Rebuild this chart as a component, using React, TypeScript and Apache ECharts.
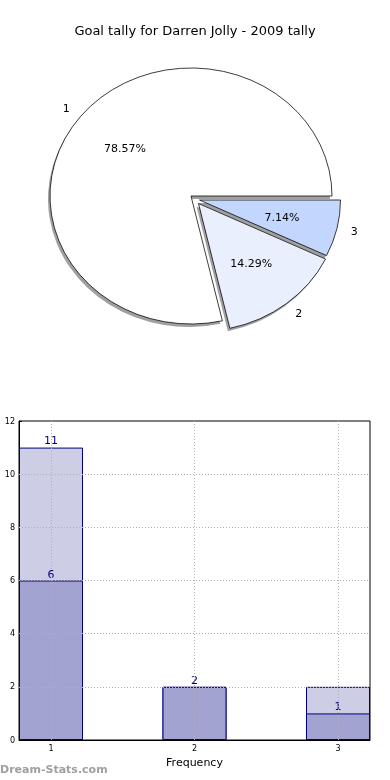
import React, { useEffect, useRef } from "react";
import * as echarts from "echarts";

const TITLE = "Goal tally for Darren Jolly - 2009 tally";
const PIE_LABELS = ["1", "2", "3"];
const PIE_VALUES = [11, 2, 1];
const PIE_COLORS = ["#ffffff", "#e9effd", "#c3d6fe"];

const CATEGORIES = [1, 2, 3];
const TOTAL_GAMES = [11, 2, 2];
const GOAL_GAMES = [6, 2, 1];
const Y_GRID = [2, 4, 6, 8, 10];

const FONT = "DejaVu Sans";
// layout constants
const CX = 191;
const CY = 196;
const RX = 141;
const RY = 128;
const EXPLODE = [
  [0, 0],
  [7.5, 7.5],
  [8.5, 4],
];

export default function App() {
  const ref = useRef<HTMLDivElement>(null);
  useEffect(() => {
    const chart = echarts.init(ref.current!, null, { renderer: "svg" });
    const total = PIE_VALUES.reduce((a, b) => a + b, 0);

    const renderPie = (params: any, api: any) => {
      const i = params.dataIndex;
      let before = 0;
      for (let k = 0; k < i; k++) before += PIE_VALUES[k];
      const v = api.value(0);
      const t0 = (before / total) * 360;
      const t1 = ((before + v) / total) * 360;
      const cx = CX + EXPLODE[i][0];
      const cy = CY + EXPLODE[i][1];
      const shape = {
        cx: 0,
        cy: 0,
        r0: 0,
        r: RX,
        startAngle: (-t1 * Math.PI) / 180,
        endAngle: (-t0 * Math.PI) / 180,
        clockwise: true,
      };
      const m = (((t0 + t1) / 2) * Math.PI) / 180;
      const c = Math.cos(m);
      const s = Math.sin(m);
      return {
        type: "group",
        children: [
          {
            type: "sector",
            x: cx - 2,
            y: cy + 3,
            scaleY: RY / RX,
            shape,
            style: { fill: "#a0a0a0" },
            z2: 0,
          },
          {
            type: "sector",
            x: cx,
            y: cy,
            scaleY: RY / RX,
            shape,
            style: {
              fill: PIE_COLORS[i],
              stroke: "#000",
              lineWidth: 0.8,
              strokeNoScale: true,
            },
            z2: 10,
          },
          {
            type: "text",
            x: cx + 0.6 * RX * c,
            y: cy - 0.6 * RY * s,
            style: {
              text: ((v / total) * 100).toFixed(2) + "%",
              align: "center",
              verticalAlign: "middle",
              fontSize: 11,
              fontFamily: FONT,
              fill: "#000",
            },
            z2: 20,
          },
          {
            type: "text",
            x: cx + 1.1 * RX * c,
            y: cy - 1.1 * RY * s,
            style: {
              text: PIE_LABELS[i],
              align: c >= 0 ? "left" : "right",
              verticalAlign: "middle",
              fontSize: 11,
              fontFamily: FONT,
              fill: "#000",
            },
            z2: 20,
          },
        ],
      };
    };

    const gridLineStyle = { color: "#b0b0b0", type: [1, 2] as any, width: 1 };

    chart.setOption({
      animation: false,
      textStyle: { fontFamily: FONT },
      title: {
        text: TITLE,
        left: "center",
        top: 19,
        textStyle: { fontSize: 13, fontWeight: "normal", color: "#000", fontFamily: FONT },
      },
      graphic: [
        {
          type: "text",
          left: 0,
          top: 764,
          style: {
            text: "Dream-Stats.com",
            fontSize: 11,
            fontWeight: "bold",
            fontFamily: FONT,
            fill: "#a0a0a0",
          },
        },
      ],
      grid: {
        left: 19,
        right: 20,
        top: 421,
        bottom: 40,
        containLabel: false,
        outerBoundsMode: "none",
        show: true,
        borderColor: "#000",
        borderWidth: 1,
        backgroundColor: "transparent",
      },
      xAxis: {
        type: "value",
        min: 0.777,
        max: 3.223,
        name: "Frequency",
        nameLocation: "middle",
        nameGap: 17,
        nameTextStyle: { fontSize: 11, color: "#000", fontFamily: FONT },
        axisLine: { show: true, lineStyle: { color: "#000" } },
        axisTick: { show: true, inside: true, length: 3, customValues: CATEGORIES, lineStyle: { color: "#000" } },
        axisLabel: { customValues: CATEGORIES, fontSize: 8, color: "#000", margin: 4, fontFamily: FONT },
        splitLine: { show: false },
      },
      yAxis: {
        type: "value",
        min: 0,
        max: 12,
        interval: 2,
        name: "Goal Tally",
        nameLocation: "middle",
        nameGap: 19,
        nameTextStyle: { fontSize: 11, color: "#000", fontFamily: FONT },
        axisLine: { show: true, lineStyle: { color: "#000" } },
        axisTick: { show: true, inside: true, length: 3, lineStyle: { color: "#000" } },
        axisLabel: { fontSize: 8, color: "#000", margin: 4, fontFamily: FONT },
        splitLine: { show: false },
      },
      series: [
        {
          type: "custom",
          coordinateSystem: "none",
          renderItem: renderPie,
          data: PIE_VALUES.map((v) => [v]),
          silent: true,
        },
        {
          type: "bar",
          data: CATEGORIES.map((c, i) => ({
            value: [c, TOTAL_GAMES[i]],
            label: { show: i === 0 },
          })),
          barWidth: 64,
          barGap: "-100%",
          itemStyle: { color: "#cdcde5", borderColor: "#00007f", borderWidth: 1 },
          label: {
            position: "top",
            distance: 2,
            fontSize: 11,
            color: "#00007f",
            fontFamily: FONT,
            formatter: (p: any) => String(p.value[1]),
          },
          silent: true,
        },
        {
          type: "bar",
          data: CATEGORIES.map((c, i) => [c, GOAL_GAMES[i]]),
          barWidth: 64,
          barGap: "-100%",
          itemStyle: { color: "#a3a3d1", borderColor: "#00007f", borderWidth: 1 },
          label: {
            show: true,
            position: "top",
            distance: 1,
            fontSize: 11,
            color: "#00007f",
            fontFamily: FONT,
            formatter: (p: any) => String(p.value[1]),
          },
          silent: true,
          markLine: {
            silent: true,
            symbol: "none",
            label: { show: false },
            lineStyle: gridLineStyle,
            data: [
              ...CATEGORIES.map((c) => ({ xAxis: c })),
              ...Y_GRID.map((y) => ({ yAxis: y })),
            ],
          },
        },
      ],
    });
    return () => chart.dispose();
  }, []);
  return (
    <div
      ref={ref}
      style={{ position: "fixed", left: 0, top: 0, width: 390, height: 780 }}
    />
  );
}
